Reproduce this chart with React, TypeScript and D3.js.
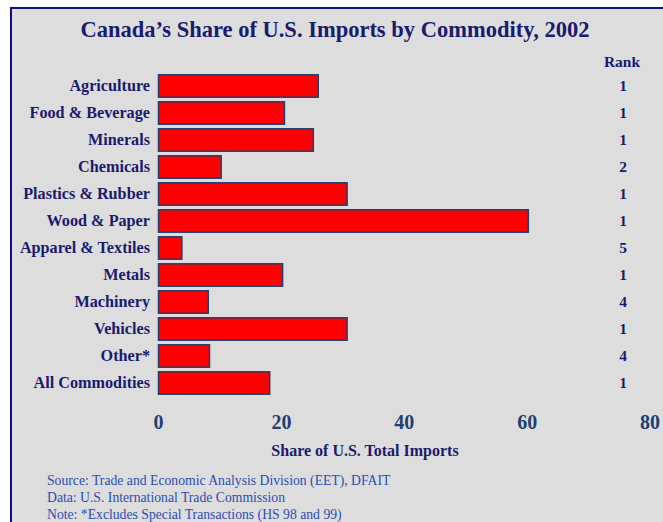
import React from "react";
import * as d3 from "d3";

const categories = [
  "Agriculture",
  "Food & Beverage",
  "Minerals",
  "Chemicals",
  "Plastics & Rubber",
  "Wood & Paper",
  "Apparel & Textiles",
  "Metals",
  "Machinery",
  "Vehicles",
  "Other*",
  "All Commodities",
];
const shares = [26.0, 20.5, 25.2, 10.2, 30.7, 60.2, 3.8, 20.2, 8.1, 30.7, 8.3, 18.1];
const ranks = [1, 1, 1, 2, 1, 1, 5, 1, 4, 1, 4, 1];
const xTicks = [0, 20, 40, 60, 80];
const title = "Canada\u2019s Share of U.S. Imports by Commodity, 2002";
const xTitle = "Share of U.S. Total Imports";
const notes = [
  "Source: Trade and Economic Analysis Division (EET), DFAIT",
  "Data: U.S. International Trade Commission",
  "Note: *Excludes Special Transactions (HS 98 and 99)",
];

const W = 663;
const H = 522;
const NAVY = "#1a1a6e";
const TICK = "#1f3f6f";
const FONT = "'Liberation Serif', 'Times New Roman', serif";

export default function App() {
  const x = d3.scaleLinear().domain([0, 80]).range([158.5, 650]);
  const y = d3
    .scaleBand<string>()
    .domain(categories)
    .range([72.5, 396.5])
    .paddingInner(0.17)
    .paddingOuter(0.085);

  return (
    <svg
      width={W}
      height={H}
      style={{ position: "absolute", left: 0, top: 0, fontFamily: FONT }}
    >
      <rect x={0} y={0} width={W} height={H} fill="#ffffff" />
      <rect x={11} y={8} width={W + 20} height={H + 20} fill="#dddddd" stroke="#10108a" strokeWidth={2} />
      <text x={335} y={37} textAnchor="middle" fontSize={22.5} fontWeight="bold" fill={NAVY}>
        {title}
      </text>
      <text x={622} y={67} textAnchor="middle" fontSize={15.5} fontWeight="bold" fill={NAVY}>
        Rank
      </text>
      {categories.map((c, i) => {
        const yy = y(c)!;
        const cy = yy + y.bandwidth() / 2;
        return (
          <g key={c}>
            <rect
              x={x(0)}
              y={yy}
              width={x(shares[i]) - x(0)}
              height={y.bandwidth()}
              fill="#ff0000"
              stroke={TICK}
              strokeWidth={1.5}
            />
            <text x={150} y={cy + 4.5} textAnchor="end" fontSize={16.2} fontWeight="bold" fill={NAVY}>
              {c}
            </text>
            <text x={623} y={cy + 4.5} textAnchor="middle" fontSize={15.5} fontWeight="bold" fill={NAVY}>
              {ranks[i]}
            </text>
          </g>
        );
      })}
      {xTicks.map((t) => (
        <text key={t} x={x(t)} y={429} textAnchor="middle" fontSize={20} fontWeight="bold" fill={TICK}>
          {t}
        </text>
      ))}
      <text x={365} y={456} textAnchor="middle" fontSize={16} fontWeight="bold" fill={NAVY}>
        {xTitle}
      </text>
      {notes.map((n, i) => (
        <text key={n} x={47} y={485 + i * 17} fontSize={13.7} fill="#2a4db0">
          {n}
        </text>
      ))}
    </svg>
  );
}
